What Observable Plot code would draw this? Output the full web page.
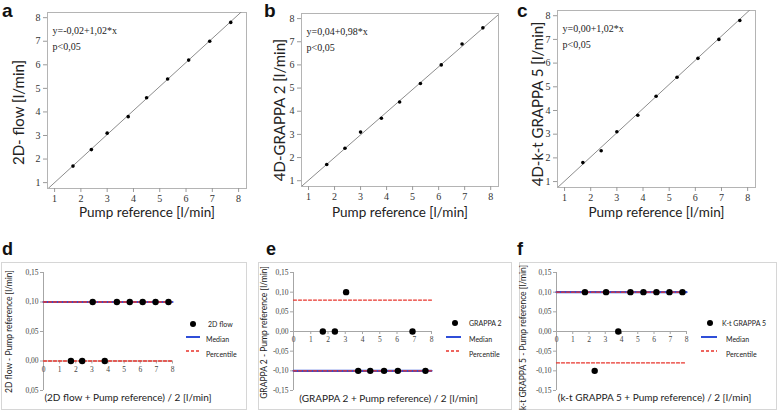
<!DOCTYPE html>
<html><head><meta charset="utf-8">
<script src="https://cdn.jsdelivr.net/npm/d3@7"></script>
<script src="https://cdn.jsdelivr.net/npm/@observablehq/plot@0.6"></script>
<style>
body{margin:0;background:#fff;}
#root{position:relative;width:778px;height:412px;overflow:hidden;background:#fff;}
#root svg{position:absolute;overflow:visible;}
.letter{position:absolute;font-family:"Liberation Sans",Arial,sans-serif;font-weight:bold;line-height:1.15;color:#111;}
.box{position:absolute;border:1px solid #d6d6d6;box-sizing:border-box;}
.leg{position:absolute;font-family:Lato,sans-serif;font-size:7px;color:#222;line-height:1;white-space:nowrap;transform:translateY(-50%);}
</style></head><body><div id="root"></div>
<script>
// ---------- data ----------
const pumpRef   = [1.7, 2.4, 3.0, 3.8, 4.5, 5.3, 6.1, 6.9, 7.7];
const flow2D    = [1.7, 2.4, 3.1, 3.8, 4.6, 5.4, 6.2, 7.0, 7.8];
const grappa2   = [1.7, 2.4, 3.1, 3.7, 4.4, 5.2, 6.0, 6.9, 7.6];
const ktGrappa5 = [1.8, 2.3, 3.1, 3.8, 4.6, 5.4, 6.2, 7.0, 7.8];
const fitIntercepts = [-0.02, 0.04, 0.00];
const fitSlopes = [1.02, 0.98, 1.02];
const equationLabels = ["y=-0,02+1,02*x", "y=0,04+0,98*x", "y=0,00+1,02*x"];
const pLabel = "p<0,05";
const topYLabels = ["2D- flow [l/min]", "4D-GRAPPA 2 [l/min]", "4D-k-t GRAPPA 5 [l/min]"];
const topXLabel = "Pump reference [l/min]";
const topTicks = [1, 2, 3, 4, 5, 6, 7, 8];

const meanD = [1.7, 2.4, 3.05, 3.8, 4.55, 5.35, 6.15, 6.95, 7.75];
const diffD = [0, 0, 0.1, 0, 0.1, 0.1, 0.1, 0.1, 0.1];
const meanE = [1.7, 2.4, 3.05, 3.75, 4.45, 5.25, 6.05, 6.9, 7.65];
const diffE = [0, 0, 0.1, -0.1, -0.1, -0.1, -0.1, 0, -0.1];
const meanF = [1.75, 2.35, 3.05, 3.8, 4.55, 5.35, 6.15, 6.95, 7.75];
const diffF = [0.1, -0.1, 0.1, 0, 0.1, 0.1, 0.1, 0.1, 0.1];
const medianValues = [0.10, -0.10, 0.10];
const percentileLow = [0.00, -0.10, -0.08];
const percentileHigh = [0.10, 0.08, 0.10];
const lineSpan = [0, 8];
const bottomXTicks = [0, 1, 2, 3, 4, 5, 6, 7, 8];
const dYTicks = [0.15, 0.10, 0.05, 0.00, -0.05];
const dYTickLabels = ["0,15", "0,10", "0,05", "0,00", "0,05"];
const efYTicks = [0.15, 0.10, 0.05, 0.00, -0.05, -0.10, -0.15];
const efYTickLabels = ["0,15", "0,10", "0,05", "0,00", "-0,05", "-0,10", "-0,15"];
const seriesNames = ["2D flow", "GRAPPA 2", "K-t GRAPPA 5"];
const bottomYLabels = ["2D flow - Pump reference [l/min]", "GRAPPA 2 - Pump reference [l/min]", "k-t GRAPPA 5 - Pump reference [l/min]"];
const bottomXLabels = ["(2D flow + Pump reference) / 2 [l/min]", "(GRAPPA 2 + Pump reference) / 2 [l/min]", "(k-t GRAPPA 5 + Pump reference) / 2 [l/min]"];
const legendLabels = ["Median", "Percentile"];
const panelLetters = ["a", "b", "c", "d", "e", "f"];

// ---------- layout ----------
const root = document.getElementById("root");
const BLUE = "#2f4ed8", RED = "#e8332b";
const SVGNS = "http://www.w3.org/2000/svg";
function place(el, left, top) { el.style.left = left + "px"; el.style.top = top + "px"; root.appendChild(el); return el; }

const topMethods = [flow2D, grappa2, ktGrappa5];
const topLayout = [
  {left: 0,   width: 258, mL: 47, mT: 12, mR: 12, mB: 37, yDx: -28, yDy: 12},
  {left: 258, width: 258, mL: 43, mT: 13, mR: 18, mB: 39, yDx: -21, yDy: 10},
  {left: 516, width: 262, mL: 41, mT: 10, mR: 23, mB: 38, yDx: -19, yDy: 5}
];
const TOPH = 225;
const xDom = [0.73, 8.3], yDom = [0.75, 8.22];

topLayout.forEach((L, k) => {
  const pts = pumpRef.map((p, i) => ({x: p, y: topMethods[k][i]}));
  const fit = xDom.map(x => ({x, y: fitIntercepts[k] + fitSlopes[k] * x}));
  const frameBottom = TOPH - L.mB;
  const svg = Plot.plot({
    width: L.width, height: TOPH,
    marginLeft: L.mL, marginTop: L.mT, marginRight: L.mR, marginBottom: L.mB,
    x: {domain: xDom}, y: {domain: yDom},
    style: {fontFamily: "Liberation Serif, serif", fontSize: "10px", color: "#333", background: "transparent"},
    marks: [
      Plot.frame({stroke: "#b4b4b4"}),
      Plot.line(fit, {x: "x", y: "y", stroke: "#8c8c8c", strokeWidth: 1, clip: true}),
      Plot.dot(pts, {x: "x", y: "y", r: 1.8, fill: "#000", stroke: "none"}),
      Plot.axisX({ticks: topTicks, tickSize: 4, tickPadding: 2, stroke: "#9a9a9a", fill: "#333", label: null, tickFormat: d => String(d)}),
      Plot.axisY({ticks: topTicks, tickSize: 4, tickPadding: 3, stroke: "#9a9a9a", fill: "#333", label: null, tickFormat: d => String(d)}),
      Plot.text([equationLabels[k] + "\n" + pLabel], {text: d => d, frameAnchor: "top-left", dx: 5, dy: 10, lineAnchor: "top", textAnchor: "start", lineHeight: 1.6, fontSize: 10, fill: "#222"}),
      Plot.text([topYLabels[k]], {text: d => d, frameAnchor: "left", textAnchor: "middle", lineAnchor: "middle", rotate: -90, dx: L.yDx, dy: L.yDy, fontFamily: "Lato, sans-serif", fontSize: 15, fill: "#222"}),
      Plot.text([topXLabel], {text: d => d, frameAnchor: "bottom", textAnchor: "middle", lineAnchor: "middle", dy: 212 - frameBottom, fontFamily: "Lato, sans-serif", fontSize: 13.5, fill: "#222"})
    ]
  });
  place(svg, L.left, 0);
});

const bottomMeans = [meanD, meanE, meanF];
const bottomDiffs = [diffD, diffE, diffF];
const bottomLayout = [
  {left: 1,   width: 246, mL: 42, mR: 75, yTicks: dYTicks, yLabs: dYTickLabels, yDom: [-0.05, 0.15], yDx: -34, yDy: 0, xDx: 20, xDy: 7, tickDy: 9,
   dot: [193, 324], sw: [186, 200], txt: [208, 206]},
  {left: 258, width: 254, mL: 35, mR: 81, yTicks: efYTicks, yLabs: efYTickLabels, yDom: [-0.15, 0.15], yDx: -29, yDy: 1, xDx: 26, xDy: 8, tickDy: 8,
   dot: [455, 323], sw: [446, 461], txt: [469, 469]},
  {left: 519, width: 258, mL: 37, mR: 91, yTicks: efYTicks, yLabs: efYTickLabels, yDom: [-0.15, 0.15], yDx: -33, yDy: 6, xDx: 33, xDy: 7, tickDy: 8,
   dot: [710, 323], sw: [701, 717], txt: [722, 726]}
];
const BTOP = 262, BH = 148, BMT = 10, BMB = 20;

function swatch(x1, x2, y, color, width, dash) {
  const s = document.createElementNS(SVGNS, "svg");
  s.setAttribute("width", x2 - x1 + 2); s.setAttribute("height", 6);
  const ln = document.createElementNS(SVGNS, "line");
  ln.setAttribute("x1", 1); ln.setAttribute("x2", x2 - x1 + 1);
  ln.setAttribute("y1", 3); ln.setAttribute("y2", 3);
  ln.setAttribute("stroke", color); ln.setAttribute("stroke-width", width);
  if (dash) ln.setAttribute("stroke-dasharray", dash);
  s.appendChild(ln);
  place(s, x1 - 1, y - 3);
}

bottomLayout.forEach((L, k) => {
  const box = document.createElement("div");
  box.className = "box";
  box.style.width = L.width + "px"; box.style.height = BH + "px";
  place(box, L.left, BTOP);
  const pts = bottomMeans[k].map((m, i) => ({x: m, y: bottomDiffs[k][i]}));
  const hline = v => lineSpan.map(x => ({x, y: v}));
  const plotH = BH - BMT - BMB;
  const tickLen = 3 * (L.yDom[1] - L.yDom[0]) / plotH;
  const fmt = d => L.yLabs[L.yTicks.indexOf(d)];
  const svg = Plot.plot({
    width: L.width, height: BH,
    marginLeft: L.mL, marginRight: L.mR, marginTop: BMT, marginBottom: BMB,
    x: {domain: [0, 8], axis: null}, y: {domain: L.yDom},
    style: {fontFamily: "Liberation Serif, serif", fontSize: "7.5px", color: "#444", background: "transparent"},
    marks: [
      Plot.ruleX([0], {stroke: "#a6a6a6"}),
      Plot.axisY({ticks: L.yTicks, tickFormat: fmt, tickSize: 3, tickPadding: 2, stroke: "#a6a6a6", fill: "#444", label: null}),
      Plot.ruleY([0], {x1: 0, x2: 8, stroke: "#a6a6a6"}),
      Plot.ruleX(bottomXTicks, {x: d => d, y1: 0, y2: -tickLen, stroke: "#a6a6a6"}),
      Plot.text(bottomXTicks, {x: d => d, y: 0, dy: L.tickDy, text: d => String(d), fill: "#444"}),
      Plot.line(hline(medianValues[k]), {x: "x", y: "y", stroke: BLUE, strokeWidth: 2.2}),
      Plot.line(hline(percentileLow[k]), {x: "x", y: "y", stroke: RED, strokeWidth: 1.3, strokeDasharray: "3,2"}),
      Plot.line(hline(percentileHigh[k]), {x: "x", y: "y", stroke: RED, strokeWidth: 1.3, strokeDasharray: "3,2"}),
      Plot.dot(pts, {x: "x", y: "y", r: 3.2, fill: "#000", stroke: "none"}),
      Plot.text([bottomYLabels[k]], {text: d => d, frameAnchor: "left", textAnchor: "middle", lineAnchor: "middle", rotate: -90, dx: L.yDx, dy: L.yDy, fontFamily: "Lato, sans-serif", fontSize: 8.5, fill: "#222"}),
      Plot.text([bottomXLabels[k]], {text: d => d, frameAnchor: "bottom", textAnchor: "middle", lineAnchor: "middle", dx: L.xDx, dy: L.xDy, fontFamily: "Lato, sans-serif", fontSize: 10, fill: "#222"})
    ]
  });
  place(svg, L.left, BTOP);

  // legend
  const dotSvg = document.createElementNS(SVGNS, "svg");
  dotSvg.setAttribute("width", 8); dotSvg.setAttribute("height", 8);
  const c = document.createElementNS(SVGNS, "circle");
  c.setAttribute("cx", 4); c.setAttribute("cy", 4); c.setAttribute("r", 3); c.setAttribute("fill", "#000");
  dotSvg.appendChild(c);
  place(dotSvg, L.dot[0] - 4, L.dot[1] - 4);
  const t0 = document.createElement("div"); t0.className = "leg"; t0.textContent = seriesNames[k];
  place(t0, L.txt[0], L.dot[1]);
  swatch(L.sw[0], L.sw[1], 337, BLUE, 2, null);
  const t1 = document.createElement("div"); t1.className = "leg"; t1.textContent = legendLabels[0];
  place(t1, L.txt[1], 339);
  swatch(L.sw[0], L.sw[1], 351, RED, 1.3, "3,2");
  const t2 = document.createElement("div"); t2.className = "leg"; t2.textContent = legendLabels[1];
  place(t2, L.txt[1], 354);
});

// panel letters: [left, top, font size]
const letterPos = [[2, 0, 19], [264, 0, 19], [517, 0, 19], [2, 239, 18], [266, 239, 18], [517, 239, 18]];
panelLetters.forEach((l, i) => {
  const [x, top, fs] = letterPos[i];
  const el = document.createElement("div");
  el.className = "letter"; el.textContent = l;
  el.style.fontSize = fs + "px";
  place(el, x, top);
});
</script></body></html>
